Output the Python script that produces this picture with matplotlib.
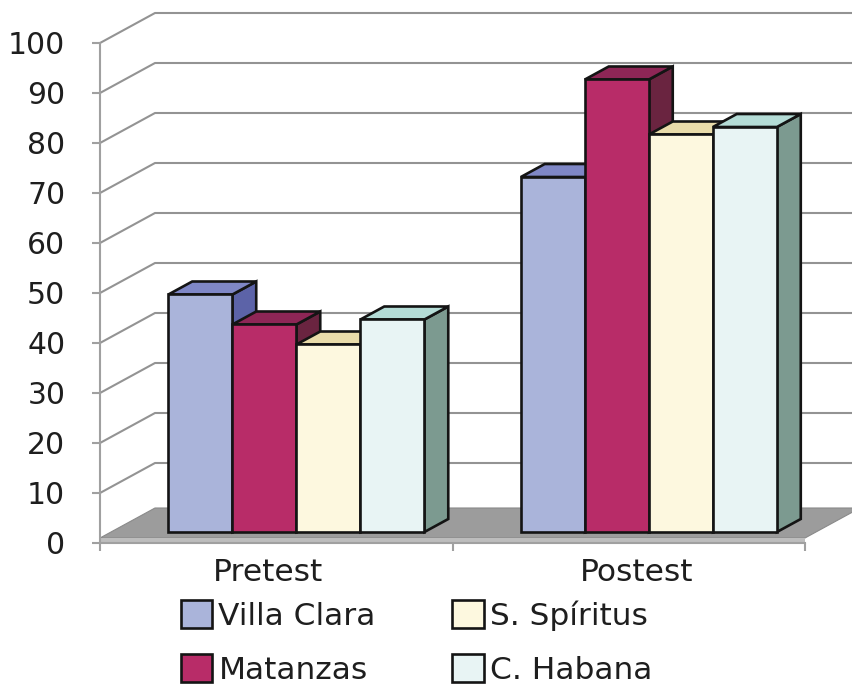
import numpy as np
import matplotlib
matplotlib.use("Agg")
import matplotlib.pyplot as plt
from matplotlib.patches import Polygon, Patch

categories = ["Pretest", "Postest"]
series = ["Villa Clara", "Matanzas", "S. Spíritus", "C. Habana"]
values = {
    "Villa Clara": [47.5, 71.0],
    "Matanzas": [41.5, 90.5],
    "S. Spíritus": [37.5, 79.5],
    "C. Habana": [42.5, 81.0],
}
yticks = list(range(0, 101, 10))

# front / top / side shades for each series
front_colors = ["#aab4da", "#b82c68", "#fdf8df", "#e8f4f4"]
top_colors = ["#7f87c6", "#8e2656", "#e9dcaa", "#b4dcd6"]
side_colors = ["#5c63a8", "#6a2440", "#cdbf8c", "#7c9a90"]

# fake 3d projection: depth vector in data units
Dx, Dy = 0.156, 6.0
f0, f1 = 0.367, 0.80        # bar front / back depth
bar_w = 0.1816
floor_t = 1.0

fig = plt.figure(figsize=(8.52, 6.85), dpi=100)
ax = fig.add_axes([0, 0, 1, 1])
ax.set_xlim(-100 / 352.5, 752 / 352.5)
ax.set_ylim(-28.4, 108.6)

ncat = len(categories)
grid_c = "#939393"

# walls: gridlines on side wall and back wall
for v in yticks[1:]:
    ax.plot([0, Dx, ncat + Dx + 0.2], [v, v + Dy, v + Dy],
            color=grid_c, lw=1.5, zorder=1, solid_capstyle="butt")

# floor
floor_top = Polygon([(0, floor_t), (ncat, floor_t), (ncat + Dx, floor_t + Dy),
                     (Dx, floor_t + Dy)], closed=True,
                    facecolor="#9c9c9c", edgecolor="#8a8a8a", lw=0.8, zorder=2)
floor_front = Polygon([(0, 0), (ncat, 0), (ncat, floor_t), (0, floor_t)],
                      closed=True, facecolor="#bdbdbd", edgecolor="none", zorder=2)
ax.add_patch(floor_top)
ax.add_patch(floor_front)

# bars
a0, b0 = f0 * Dx, f0 * Dy
a1, b1 = f1 * Dx, f1 * Dy
gap = (1 - len(series) * bar_w) / 2
ec = "#141414"
lw = 1.9
z = 3
for i in range(ncat):
    for j, name in enumerate(series):
        v = values[name][i]
        xl = i + gap + j * bar_w
        xr = xl + bar_w
        front = [(xl + a0, b0), (xr + a0, b0), (xr + a0, v + b0), (xl + a0, v + b0)]
        top = [(xl + a0, v + b0), (xr + a0, v + b0), (xr + a1, v + b1), (xl + a1, v + b1)]
        side = [(xr + a0, b0), (xr + a1, b1), (xr + a1, v + b1), (xr + a0, v + b0)]
        for pts, col in ((side, side_colors[j]), (top, top_colors[j]), (front, front_colors[j])):
            ax.add_patch(Polygon(pts, closed=True, facecolor=col, edgecolor=ec,
                                 lw=lw, joinstyle="miter", zorder=z))
        z += 1

# axes
for s in ["top", "right"]:
    ax.spines[s].set_visible(False)
ax.spines["left"].set_position(("data", 0))
ax.spines["left"].set_bounds(0, 100)
ax.spines["bottom"].set_position(("data", 0))
ax.spines["bottom"].set_bounds(0, ncat)
for s in ["left", "bottom"]:
    ax.spines[s].set_color("#a0a0a0")
    ax.spines[s].set_linewidth(1.5)
    ax.spines[s].set_zorder(2.5)

txt_c = "#1e1e1e"
ax.set_yticks(yticks)
ax.set_yticklabels([str(t) for t in yticks])
ax.tick_params(axis="y", direction="out", length=6, width=1.5, color="#a0a0a0",
               pad=19, labelsize=21.5, labelcolor=txt_c)
ax.set_xticks(range(ncat + 1))
ax.set_xticklabels([])
ax.set_xticks([i + 0.5 + (i - 0.5) * 0.045 for i in range(ncat)], minor=True)
ax.set_xticklabels(categories, minor=True)
ax.tick_params(axis="x", which="major", direction="out", length=6, width=1.5, color="#a0a0a0")
ax.tick_params(axis="x", which="minor", length=0, pad=11, labelsize=22.5, labelcolor=txt_c)

handles = [Patch(facecolor=front_colors[j], edgecolor=ec, lw=1.9, label=series[j])
           for j in range(len(series))]
leg = ax.legend(handles=handles, ncol=2, frameon=False, loc="upper left",
                bbox_to_anchor=(181 / 852, 1 - 600 / 685), bbox_transform=fig.transFigure,
                fontsize=22.5, handlelength=1.0, handleheight=1.0, handletextpad=0.2,
                columnspacing=2.45, labelspacing=0.76, borderpad=0, borderaxespad=0)
for t in leg.get_texts():
    t.set_color(txt_c)

fig.savefig("out.png", dpi=100)
